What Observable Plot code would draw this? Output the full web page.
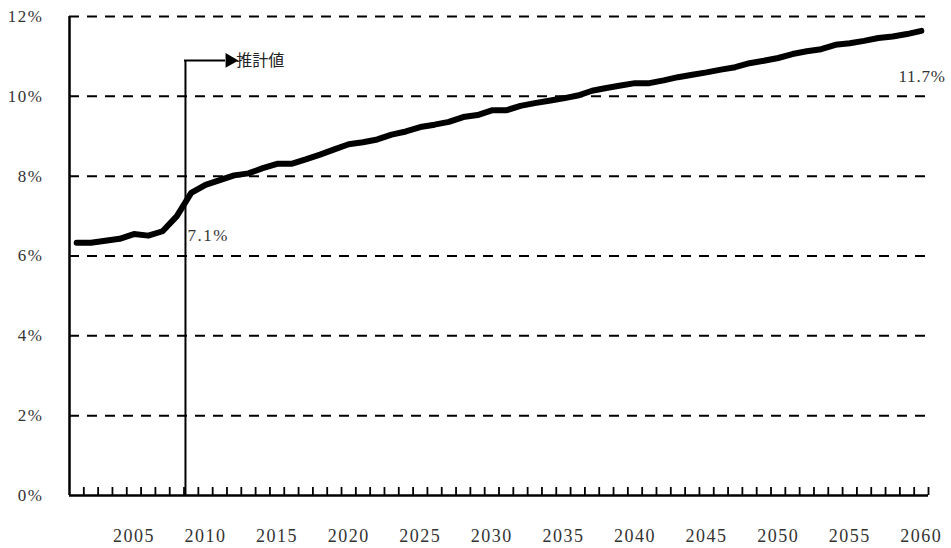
<!DOCTYPE html>
<html>
<head>
<meta charset="utf-8">
<script src="https://cdn.jsdelivr.net/npm/d3@7"></script>
<script src="https://cdn.jsdelivr.net/npm/@observablehq/plot@0.6"></script>
<style>
  html, body { margin: 0; padding: 0; background: #fff; }
  #chart svg { display: block; }
</style>
</head>
<body>
<div id="chart"></div>
<script>
const years = d3.range(2001, 2061);
const values = [
  6.33, 6.33, 6.38, 6.43, 6.55, 6.51, 6.62, 7.00, 7.58, 7.78,
  7.90, 8.02, 8.07, 8.20, 8.31, 8.31, 8.42, 8.54, 8.67, 8.80,
  8.85, 8.92, 9.04, 9.12, 9.23, 9.29, 9.36, 9.48, 9.53, 9.65,
  9.65, 9.76, 9.83, 9.89, 9.95, 10.02, 10.14, 10.21, 10.27, 10.33,
  10.33, 10.40, 10.48, 10.54, 10.60, 10.67, 10.73, 10.83, 10.89, 10.96,
  11.06, 11.13, 11.18, 11.29, 11.33, 11.39, 11.46, 11.50, 11.56, 11.64
];
const xTickLabels = [2005, 2010, 2015, 2020, 2025, 2030, 2035, 2040, 2045, 2050, 2055, 2060];
const yTicks = [0, 2, 4, 6, 8, 10, 12];
const gridLines = [2, 4, 6, 8, 10, 12];
const boundaries = years.map(y => y + 0.5);

// annotation
const estimateX = 2008.6;
const estimateY = 10.9;
const estimateLabel = "推計値";
const startLabel = "7.1%";
const endLabel = "11.7%";

const data = years.map((y, i) => ({year: y, value: values[i]}));

const serif = "'Liberation Serif', 'DejaVu Serif', serif";

const chart = Plot.plot({
  width: 951,
  height: 548,
  marginLeft: 69,
  marginRight: 23,
  marginTop: 16,
  marginBottom: 53,
  style: {fontFamily: serif, background: "#fff"},
  x: {type: "linear", domain: [2000.5, 2060.5]},
  y: {domain: [0, 12]},
  marks: [
    Plot.ruleY(gridLines, {stroke: "#000", strokeWidth: 2, strokeDasharray: "10,8"}),
    Plot.ruleX(boundaries, {y1: 0, y2: 0.2, stroke: "#000", strokeWidth: 1.8}),
    Plot.ruleY([0], {stroke: "#000", strokeWidth: 2.5}),
    Plot.ruleX([2000.5], {y1: 0, y2: 12, stroke: "#000", strokeWidth: 2.5}),
    // estimate annotation
    Plot.ruleX([estimateX], {y1: 0, y2: estimateY, stroke: "#000", strokeWidth: 2}),
    Plot.ruleY([estimateY], {x1: estimateX - 0.07, x2: 2011.4, stroke: "#000", strokeWidth: 2}),
    Plot.dot([{x: 2011.7, y: estimateY}], {x: "x", y: "y", symbol: "triangle", rotate: 90, r: 5.5, fill: "#000", stroke: "none"}),
    Plot.text([estimateLabel], {x: 2012.15, y: estimateY, text: d => d, textAnchor: "start", fontSize: 16, fill: "#222", fontFamily: "'Noto Sans CJK JP', sans-serif"}),
    // line
    Plot.line(data, {x: "year", y: "value", stroke: "#000", strokeWidth: 6, strokeLinejoin: "round", strokeLinecap: "round"}),
    Plot.text([startLabel], {x: 2008.75, y: 6.5, text: d => d, textAnchor: "start", fontSize: 17, fill: "#333", fontFamily: serif, className: "num"}),
    Plot.text([endLabel], {x: 2058.4, y: 10.5, text: d => d, textAnchor: "start", fontSize: 17, fill: "#333", fontFamily: serif, className: "numEnd"}),
    Plot.axisY({ticks: yTicks, tickSize: 0, tickPadding: 26, tickFormat: d => d + "%", fontSize: 17, fill: "#333", className: "num"}),
    Plot.axisX({ticks: xTickLabels, tickSize: 0, tickPadding: 34, tickFormat: d => String(d), fontSize: 18, fill: "#333", className: "num"})
  ]
});

chart.querySelectorAll("g.num text, text.num").forEach(t => t.style.letterSpacing = "1.5px");
chart.querySelectorAll("g.numEnd text, text.numEnd").forEach(t => t.style.letterSpacing = "0.8px");
document.getElementById("chart").appendChild(chart);
</script>
</body>
</html>
